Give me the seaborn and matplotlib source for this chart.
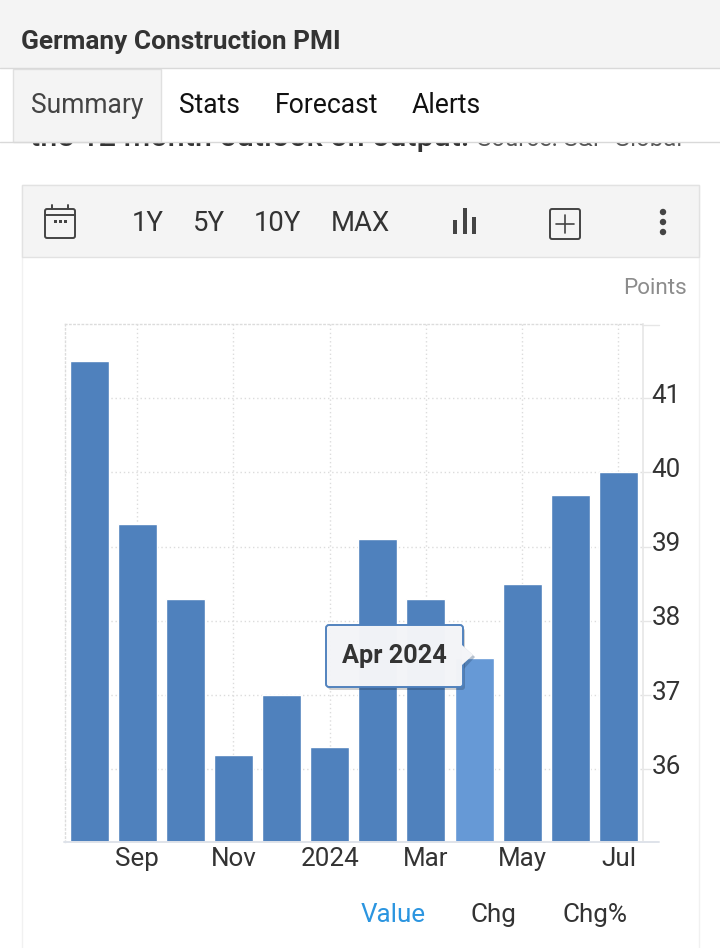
import matplotlib
matplotlib.use('Agg')
import matplotlib.pyplot as plt
from matplotlib.patches import Rectangle, FancyBboxPatch, Polygon, Circle
from matplotlib.transforms import ScaledTranslation
import seaborn as sns

# Data
months = ['Aug', 'Sep', 'Oct', 'Nov', 'Dec', '2024', 'Feb', 'Mar', 'Apr', 'May', 'Jun', 'Jul']
values = [41.5, 39.3, 38.3, 36.2, 37.0, 36.3, 39.1, 38.3, 37.5, 38.5, 39.7, 40.0]
y_ticks = [36, 37, 38, 39, 40, 41]
x_shown = ['Sep', 'Nov', '2024', 'Mar', 'May', 'Jul']
highlight = 'Apr'
tabs = ['Summary', 'Stats', 'Forecast', 'Alerts']
ranges = ['1Y', '5Y', '10Y', 'MAX']

W, H = 720, 948
BAR = '#4f81bd'
BAR_HI = '#6699d6'
GREY = '#f4f4f4'
LINE = '#d9d9d9'
TXT = '#333333'

sns.set_style('white')
plt.rcParams['font.family'] = ['Roboto', 'DejaVu Sans']


def fs(px):
    return px * 0.72


fig = plt.figure(figsize=(W / 100, H / 100), dpi=100, facecolor='white')

# page chrome, drawn in pixel coordinates
bg = fig.add_axes([0, 0, 1, 1], zorder=0)
bg.set_xlim(0, W)
bg.set_ylim(H, 0)
bg.axis('off')

# card
bg.add_patch(Rectangle((22, 185), 677, 780, fc='white', ec='#f1f1f1', lw=1))
bg.add_patch(Rectangle((22, 185), 677, 72, fc=GREY, ec='#e2e2e2', lw=1))

# scrolled text, its top is hidden behind the tab bar
bg.text(30, 146, 'the 12 month outlook on output.', fontsize=fs(30.5), color=TXT,
        fontweight='medium', va='baseline', zorder=0.5)
bg.text(477, 146, 'Source: S&P Global', fontsize=fs(24), color='#555555', va='baseline', zorder=0.5)

# header and tabs
bg.add_patch(Rectangle((0, 0), W, 68, fc=GREY, ec='none'))
bg.add_patch(Rectangle((0, 68), W, 74.5, fc='white', ec='none'))
bg.plot([0, W], [68, 68], color=LINE, lw=1)
bg.plot([0, W], [142, 142], color=LINE, lw=1)
bg.add_patch(Rectangle((12.5, 68.5), 148, 73.5, fc=GREY, ec='#e0e0e0', lw=1))
bg.text(21, 41.5, 'Germany Construction PMI', fontsize=fs(26.2), fontweight='bold', color=TXT, va='center')
for label, x, col in zip(tabs, [31, 179, 275, 412], ['#444444', '#111111', '#111111', '#111111']):
    bg.text(x, 105, label, fontsize=fs(26.5), color=col, va='center')

# toolbar
for label, x in zip(ranges, [131.5, 193, 254, 331]):
    bg.text(x, 223, label, fontsize=fs(27.5), color=TXT, va='center')

# calendar icon
bg.add_patch(FancyBboxPatch((45, 209), 30, 29, boxstyle='round,pad=0,rounding_size=2', fc='none', ec='#444444', lw=1.4))
bg.plot([45, 75], [215, 215], color='#444444', lw=1.4)
for x in (52, 68):
    bg.plot([x, x], [205, 209], color='#444444', lw=1.4)
for x in (55, 60, 65):
    bg.add_patch(Rectangle((x - 1, 220), 2.5, 2.5, fc='#444444', ec='none'))

# bar chart icon
for x, t in zip([455, 465, 474], [220, 208, 217]):
    bg.add_patch(Rectangle((x - 1.7, t), 3.4, 234 - t, fc='#444444', ec='none'))

# add icon
bg.add_patch(FancyBboxPatch((550, 209), 30, 30, boxstyle='round,pad=0,rounding_size=2', fc='none', ec='#444444', lw=1.4))
bg.plot([565, 565], [215, 233], color='#444444', lw=1.2)
bg.plot([556, 574], [224, 224], color='#444444', lw=1.2)

# menu dots
for y in (212, 222, 232):
    bg.add_patch(Circle((663, y), 3.2, fc='#444444', ec='none'))

bg.text(687, 289, 'Points', fontsize=fs(22.5), color='#8c8c8c', ha='right', va='center')
for label, x, col in zip(['Value', 'Chg', 'Chg%'], [361, 471, 563], ['#2b95e0', '#333333', '#333333']):
    bg.text(x, 915, label, fontsize=fs(26), color=col, va='center')

# the chart itself
ax = fig.add_axes([65 / W, 1 - 841.5 / H, (642.5 - 65) / W, (841.5 - 324) / H], zorder=1)
ax.patch.set_alpha(0)
colors = {m: (BAR_HI if m == highlight else BAR) for m in months}
sns.barplot(x=months, y=values, hue=months, palette=colors, order=months, legend=False,
            width=0.81, saturation=1, ax=ax, zorder=3)
ax.set_xlim(-0.5, 11.5)
ax.set_ylim(35.03, 42.0)
ax.set_yticks(y_ticks)
ax.yaxis.tick_right()
ax.set_xticks([months.index(m) for m in x_shown])
ax.set_xticklabels(x_shown)
ax.tick_params(axis='x', length=0, labelsize=fs(26), labelcolor=TXT, pad=4)
ax.tick_params(axis='y', length=5.8, width=1, color='#e6e6e6', labelsize=fs(26), labelcolor=TXT, pad=0.7)
# value labels sit a little above their gridlines
lift = ScaledTranslation(0, 5 / 100, fig.dpi_scale_trans)
for lab in ax.get_yticklabels():
    lab.set_transform(lab.get_transform() + lift)
ax.grid(True, color='#dcdcdc', ls=(0, (1, 2)), lw=1)
ax.set_axisbelow(True)
ax.set_xlabel('')
ax.set_ylabel('')
for side in ('top', 'left'):
    ax.spines[side].set_color('#dcdcdc')
    ax.spines[side].set_linestyle((0, (1, 2)))
    ax.spines[side].set_linewidth(1)
ax.spines['right'].set_color('#e6e6e6')
ax.spines['right'].set_linewidth(1.2)
ax.spines['bottom'].set_visible(False)

# overlay: axis line ends and tooltip
top = fig.add_axes([0, 0, 1, 1], zorder=2)
top.set_xlim(0, W)
top.set_ylim(H, 0)
top.axis('off')
top.patch.set_alpha(0)
top.plot([64, 659], [841.5, 841.5], color='#dfe3ea', lw=1.4, zorder=1)
top.plot([642, 659], [324.5, 324.5], color='#e6e6e6', lw=1, zorder=1)
top.add_patch(FancyBboxPatch((328, 628), 137, 62, boxstyle='round,pad=0,rounding_size=3',
                             fc='#000000', ec='none', alpha=0.18, zorder=2))
top.add_patch(Polygon([[463, 646], [475, 657], [463, 670]], fc='#2f4f75', ec='none', alpha=0.35, zorder=2))
top.add_patch(FancyBboxPatch((326, 625), 137, 62, boxstyle='round,pad=0,rounding_size=3',
                             fc='#f4f5f8', ec='#4f81bd', lw=1.4, alpha=0.985, zorder=3))
top.add_patch(Polygon([[462, 645], [473, 655], [462, 665]], fc='#f4f5f8', ec='none', zorder=4))
top.text(394.5, 656, 'Apr 2024', fontsize=fs(25.2), fontweight='bold', color=TXT, ha='center', va='center', zorder=5)

fig.savefig('out.png', dpi=100)
